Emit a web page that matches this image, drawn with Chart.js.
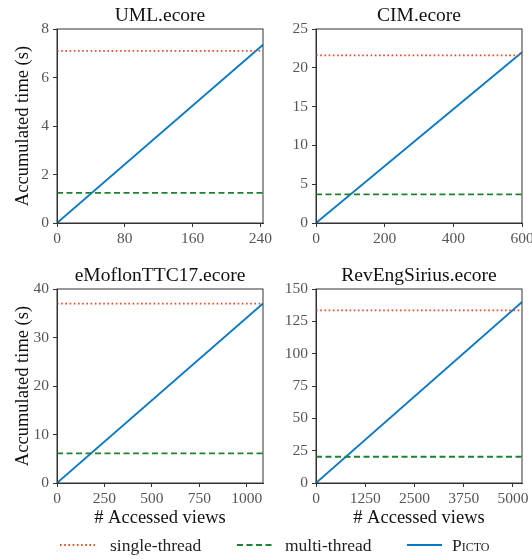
<!DOCTYPE html>
<html>
<head>
<meta charset="utf-8">
<script src="https://cdn.jsdelivr.net/npm/chart.js@4.4.1/dist/chart.umd.min.js"></script>
<style>
  body { margin: 0; background: #fff; }
  #wrap { position: relative; width: 532px; height: 559px; overflow: hidden; }
  #wrap canvas { position: absolute; left: 0; top: 0; }
  #legend { position: absolute; left: 0; top: 533px; width: 532px; height: 24px;
            font-family: "Liberation Serif", serif; font-size: 17.5px; color: #222; }
  .item { position: absolute; top: 0; line-height: 24px; white-space: nowrap; }
  .item svg { position: absolute; top: 0; }
  .item span { position: absolute; top: 0; }
</style>
</head>
<body>
<div id="wrap">
  <canvas id="c0" width="532" height="559"></canvas>
  <canvas id="c1" width="532" height="559"></canvas>
  <canvas id="c2" width="532" height="559"></canvas>
  <canvas id="c3" width="532" height="559"></canvas>
  <div id="legend"></div>
</div>
<script>
// Données
const modeles = ['UML.ecore', 'CIM.ecore', 'eMoflonTTC17.ecore', 'RevEngSirius.ecore'];
const vuesMax = [243, 600, 1085, 5230];
const pictoFinal = [7.35, 22.0, 37.0, 140];
const singleThread = [7.1, 21.6, 37.0, 133.5];
const multiThread = [1.24, 3.7, 6.1, 20.3];
const yMax = [8, 25, 40, 150];
const yPas = [2, 5, 10, 25];
const xTicks = [
  [0, 80, 160, 240],
  [0, 200, 400, 600],
  [0, 250, 500, 750, 1000],
  [0, 1250, 2500, 3750, 5000]
];
const libelles = ['single-thread', 'multi-thread', 'Picto'];

const ROUGE = '#e8492a';
const VERT = '#1e8233';
const BLEU = '#0a78c2';
const POLICE = '"Liberation Serif", "DejaVu Serif", serif';

// Zones de tracé (px) de chaque sous-graphique
const zones = [
  { l: 57, r: 263, t: 29, b: 223 },
  { l: 316, r: 522, t: 29, b: 223 },
  { l: 57, r: 263, t: 289, b: 483 },
  { l: 316, r: 522, t: 289, b: 483 }
];

// Cadre complet + titre centré sur la zone de tracé
const cadre = {
  id: 'cadre',
  afterDatasetsDraw(chart, args, opts) {
    const { ctx, chartArea: a } = chart;
    ctx.save();
    ctx.strokeStyle = '#333';
    ctx.lineWidth = 1;
    ctx.strokeRect(a.left, a.top, a.right - a.left, a.bottom - a.top);
    ctx.fillStyle = '#111';
    ctx.font = '19.5px ' + POLICE;
    ctx.textAlign = 'center';
    ctx.textBaseline = 'alphabetic';
    ctx.fillText(opts.texte, (a.left + a.right) / 2, a.top - 8);
    ctx.restore();
  }
};

const formatTick = (v) => String(v);

modeles.forEach((nom, i) => {
  const z = zones[i];
  const gauche = i % 2 === 0;
  const bas = i >= 2;
  const yW = gauche ? 45 : 30;
  const xH = bas ? 46 : 22;

  new Chart(document.getElementById('c' + i), {
    type: 'line',
    data: {
      datasets: [
        {
          label: libelles[0],
          data: [{ x: 0, y: singleThread[i] }, { x: vuesMax[i], y: singleThread[i] }],
          borderColor: ROUGE, borderWidth: 1.8, borderDash: [1.6, 2.6], pointRadius: 0
        },
        {
          label: libelles[1],
          data: [{ x: 0, y: multiThread[i] }, { x: vuesMax[i], y: multiThread[i] }],
          borderColor: VERT, borderWidth: 1.8, borderDash: [6, 3.5], pointRadius: 0
        },
        {
          label: libelles[2],
          data: [{ x: 0, y: 0 }, { x: vuesMax[i], y: pictoFinal[i] }],
          borderColor: BLEU, borderWidth: 1.8, pointRadius: 0
        }
      ]
    },
    options: {
      responsive: false,
      animation: false,
      layout: {
        padding: {
          left: z.l - yW,
          right: 532 - z.r,
          top: z.t,
          bottom: 559 - z.b - xH
        }
      },
      plugins: {
        legend: { display: false },
        tooltip: { enabled: false },
        title: { display: false },
        cadre: { texte: nom }
      },
      scales: {
        x: {
          type: 'linear',
          min: 0,
          max: vuesMax[i],
          afterBuildTicks: (s) => { s.ticks = xTicks[i].map(v => ({ value: v })); },
          afterFit: (s) => { s.height = xH; s.paddingLeft = 0; s.paddingRight = 0; },
          grid: { drawOnChartArea: false, drawTicks: true, tickLength: 4, color: '#333' },
          border: { display: true, color: '#333' },
          ticks: { color: '#555', padding: 3, maxRotation: 0, autoSkip: false,
                   callback: formatTick, font: { family: POLICE, size: 15.5 } },
          title: {
            display: bas,
            text: '# Accessed views',
            color: '#111',
            font: { family: POLICE, size: 18.5 },
            padding: { top: 3, bottom: 0 }
          }
        },
        y: {
          min: 0,
          max: yMax[i],
          ticks: { stepSize: yPas[i], color: '#555', padding: 4,
                   callback: formatTick, font: { family: POLICE, size: 15.5 } },
          afterFit: (s) => { s.width = yW; s.paddingTop = 0; s.paddingBottom = 0; },
          grid: { drawOnChartArea: false, drawTicks: true, tickLength: 4, color: '#333' },
          border: { display: true, color: '#333' },
          title: {
            display: gauche,
            text: 'Accumulated time (s)',
            color: '#111',
            font: { family: POLICE, size: 18.5 },
            padding: { top: 0, bottom: 0 }
          }
        }
      }
    },
    plugins: [cadre]
  });
});

// Légende commune en bas
const legende = [
  { x: 60, txt: 110, couleur: ROUGE, dash: '1.6 2.6', caps: false },
  { x: 237, txt: 285, couleur: VERT, dash: '6 3.5', caps: false },
  { x: 407, txt: 452, couleur: BLEU, dash: '', caps: true }
];
const boite = document.getElementById('legend');
legende.forEach((it, k) => {
  const d = document.createElement('div');
  d.className = 'item';
  d.style.left = '0px';
  d.innerHTML =
    '<svg width="40" height="24" style="left:' + it.x + 'px"><line x1="0" y1="12" x2="35" y2="12" stroke="' +
    it.couleur + '" stroke-width="1.8"' + (it.dash ? ' stroke-dasharray="' + it.dash + '"' : '') + '/></svg>' +
    '<span style="left:' + it.txt + 'px;' + (it.caps ? 'font-variant:small-caps;' : '') + '">' + libelles[k] + '</span>';
  boite.appendChild(d);
});
</script>
</body>
</html>
